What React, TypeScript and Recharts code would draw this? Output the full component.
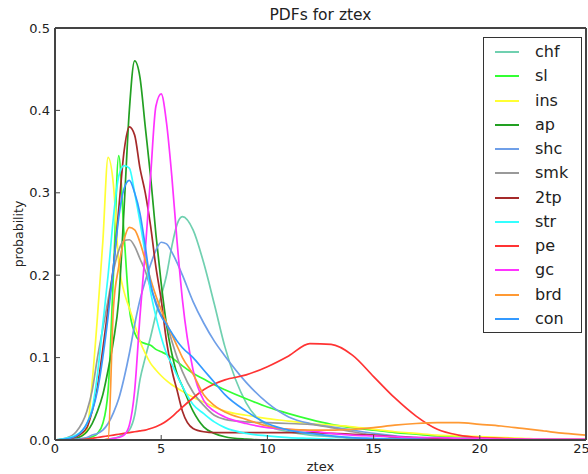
import { Legend, Line, LineChart, XAxis, YAxis } from "recharts";

// ztex grid (finer where the peaks are)
const X = [
  0, 0.5, 1, 1.5, 1.75, 2, 2.25, 2.5, 2.75, 3, 3.25, 3.5, 3.75, 4, 4.25, 4.5, 4.75, 5, 5.25, 5.5, 5.75, 6, 6.5, 7,
  7.5, 8, 9, 10, 11, 12, 13, 14, 15, 16, 17, 18, 19, 20, 21, 22, 23, 24, 25,
];

const CHF = [
  0, 0, 0, 0, 0, 0, 0, 0.001, 0.002, 0.004, 0.007, 0.012, 0.03, 0.073, 0.1, 0.125, 0.152, 0.175, 0.2, 0.235,
  0.262, 0.271, 0.255, 0.215, 0.165, 0.113, 0.045, 0.018, 0.01, 0.006, 0.004, 0.002, 0.001, 0.001, 0, 0, 0, 0,
  0, 0, 0, 0, 0,
];
const SL = [
  0, 0, 0.001, 0.002, 0.004, 0.008, 0.02, 0.06, 0.2, 0.345, 0.25, 0.16, 0.13, 0.12, 0.117, 0.115, 0.11, 0.107,
  0.104, 0.1, 0.095, 0.09, 0.081, 0.074, 0.067, 0.061, 0.05, 0.04, 0.032, 0.025, 0.019, 0.015, 0.012, 0.009,
  0.007, 0.005, 0.004, 0.003, 0.002, 0.001, 0.001, 0.001, 0.001,
];
const INS = [
  0, 0, 0.002, 0.012, 0.07, 0.15, 0.24, 0.343, 0.31, 0.215, 0.18, 0.16, 0.14, 0.12, 0.105, 0.093, 0.085, 0.078,
  0.072, 0.067, 0.063, 0.059, 0.052, 0.046, 0.04, 0.035, 0.03, 0.026, 0.023, 0.02, 0.018, 0.016, 0.013, 0.01,
  0.008, 0.006, 0.005, 0.004, 0.003, 0.002, 0.001, 0.001, 0.001,
];
const AP = [
  0, 0, 0.002, 0.01, 0.02, 0.035, 0.055, 0.085, 0.12, 0.17, 0.28, 0.4, 0.46, 0.44, 0.38, 0.32, 0.25, 0.19, 0.14,
  0.105, 0.08, 0.065, 0.035, 0.016, 0.008, 0.004, 0.001, 0, 0, 0, 0, 0, 0, 0, 0, 0, 0, 0, 0, 0, 0, 0, 0,
];
const SHC = [
  0, 0, 0.001, 0.003, 0.006, 0.008, 0.012, 0.02, 0.033, 0.05, 0.075, 0.105, 0.14, 0.17, 0.193, 0.213, 0.23, 0.24,
  0.238, 0.228, 0.215, 0.2, 0.168, 0.142, 0.12, 0.102, 0.07, 0.045, 0.028, 0.02, 0.016, 0.012, 0.008, 0.005,
  0.003, 0.002, 0.001, 0.001, 0, 0, 0, 0, 0,
];
const SMK = [
  0, 0.002, 0.01, 0.035, 0.06, 0.1, 0.135, 0.17, 0.205, 0.23, 0.242, 0.243, 0.235, 0.22, 0.205, 0.185, 0.168,
  0.152, 0.142, 0.12, 0.1, 0.083, 0.058, 0.042, 0.03, 0.025, 0.022, 0.021, 0.02, 0.019, 0.015, 0.01, 0.006,
  0.003, 0.002, 0.001, 0, 0, 0, 0, 0, 0, 0,
];
const TWOTP = [
  0, 0.001, 0.004, 0.015, 0.035, 0.065, 0.11, 0.16, 0.21, 0.28, 0.35, 0.38, 0.37, 0.33, 0.3, 0.26, 0.21, 0.17,
  0.12, 0.085, 0.06, 0.035, 0.014, 0.01, 0.009, 0.009, 0.009, 0.009, 0.009, 0.009, 0.008, 0.007, 0.006, 0.004,
  0.003, 0.002, 0.001, 0.001, 0, 0, 0, 0, 0,
];
const STR = [
  0, 0.002, 0.006, 0.02, 0.038, 0.08, 0.14, 0.2, 0.27, 0.32, 0.333, 0.33, 0.3, 0.265, 0.225, 0.18, 0.15, 0.125,
  0.105, 0.092, 0.078, 0.065, 0.043, 0.032, 0.022, 0.015, 0.008, 0.005, 0.003, 0.002, 0.001, 0, 0, 0, 0, 0, 0,
  0, 0, 0, 0, 0, 0,
];
const PE = [
  0, 0, 0, 0.001, 0.002, 0.003, 0.004, 0.005, 0.006, 0.007, 0.008, 0.009, 0.01, 0.011, 0.012, 0.014, 0.016,
  0.019, 0.023, 0.028, 0.034, 0.04, 0.051, 0.061, 0.068, 0.073, 0.079, 0.089, 0.102, 0.117, 0.116, 0.103, 0.077,
  0.051, 0.029, 0.013, 0.006, 0.003, 0.002, 0.001, 0, 0, 0,
];
const GC = [
  0, 0, 0, 0, 0, 0, 0, 0.001, 0.002, 0.003, 0.006, 0.018, 0.06, 0.15, 0.23, 0.32, 0.405, 0.42, 0.385, 0.32, 0.24,
  0.17, 0.085, 0.048, 0.035, 0.028, 0.02, 0.015, 0.013, 0.011, 0.008, 0.006, 0.005, 0.004, 0.003, 0.003, 0.002,
  0.002, 0.001, 0.001, 0.001, 0.001, 0.001,
];
const BRD = [
  0, 0, 0, 0, 0, 0, 0, 0.001, 0.16, 0.21, 0.243, 0.258, 0.255, 0.24, 0.218, 0.195, 0.175, 0.158, 0.142, 0.128,
  0.114, 0.1, 0.08, 0.055, 0.042, 0.034, 0.025, 0.017, 0.013, 0.012, 0.012, 0.013, 0.015, 0.018, 0.02, 0.021,
  0.021, 0.019, 0.017, 0.014, 0.011, 0.008, 0.006,
];
const CON = [
  0, 0.001, 0.005, 0.02, 0.035, 0.06, 0.1, 0.15, 0.21, 0.27, 0.305, 0.315, 0.3, 0.275, 0.235, 0.19, 0.165, 0.15,
  0.14, 0.13, 0.12, 0.112, 0.1, 0.085, 0.07, 0.055, 0.035, 0.02, 0.012, 0.008, 0.005, 0.003, 0.002, 0.001, 0.001,
  0, 0, 0, 0, 0, 0, 0, 0,
];

const NAMES = ["chf", "sl", "ins", "ap", "shc", "smk", "2tp", "str", "pe", "gc", "brd", "con"];
const VALUES = [CHF, SL, INS, AP, SHC, SMK, TWOTP, STR, PE, GC, BRD, CON];
const COLORS = [
  "#70d0b0", "#33ff33", "#ffff33", "#22a022", "#6f9fe8", "#999999",
  "#a52a2a", "#33ffff", "#ff3333", "#ff33ff", "#ff9933", "#3399ff",
];

const X_TICKS = [0, 5, 10, 15, 20, 25];
const Y_TICKS = [0, 0.1, 0.2, 0.3, 0.4, 0.5];

const data = X.map((x, i) => {
  const row: Record<string, number> = { x };
  NAMES.forEach((n, j) => (row[n] = VALUES[j][i]));
  return row;
});

const FRAME = "#444";
const TEXT = "#222";

function LegendBox() {
  return (
    <div
      style={{
        width: 99,
        height: 296,
        border: "1.5px solid #333",
        background: "#fff",
        boxSizing: "border-box",
        paddingTop: 2,
      }}
    >
      {NAMES.map((n, i) => (
        <div key={n} style={{ display: "flex", alignItems: "center", height: 24.25 }}>
          <div style={{ width: 24, height: 2, background: COLORS[i], marginLeft: 11 }} />
          <span style={{ marginLeft: 16, fontSize: 16, color: TEXT, lineHeight: "16px" }}>{n}</span>
        </div>
      ))}
    </div>
  );
}

export default function App() {
  return (
    <div style={{ position: "absolute", left: 0, top: 0, fontFamily: "DejaVu Sans", background: "#fff" }}>
      <LineChart width={588} height={474} data={data} margin={{ top: 0, right: 0, bottom: 0, left: 0 }}>
        <XAxis
          dataKey="x"
          type="number"
          domain={[0, 25]}
          ticks={X_TICKS}
          height={34}
          tickSize={-5}
          tickMargin={9}
          axisLine={{ stroke: FRAME, strokeWidth: 2 }}
          tickLine={{ stroke: FRAME }}
          tick={{ fill: TEXT, fontSize: 13 }}
          label={{ value: "ztex", position: "insideBottom", offset: 3, fill: TEXT, fontSize: 13 }}
        />
        <XAxis
          xAxisId="top"
          orientation="top"
          dataKey="x"
          type="number"
          domain={[0, 25]}
          ticks={X_TICKS}
          height={28}
          tickSize={-5}
          tick={false}
          axisLine={{ stroke: FRAME, strokeWidth: 2 }}
          tickLine={{ stroke: FRAME }}
          label={{
            content: (p: any) => (
              <text
                x={p.viewBox.x + p.viewBox.width / 2}
                y={20}
                textAnchor="middle"
                fill={TEXT}
                fontSize={15.5}
              >
                PDFs for ztex
              </text>
            ),
          }}
        />
        <YAxis
          type="number"
          domain={[0, 0.5]}
          ticks={Y_TICKS}
          width={55}
          tickSize={-5}
          tickMargin={10}
          tickFormatter={(v: number) => v.toFixed(1)}
          axisLine={{ stroke: FRAME, strokeWidth: 2 }}
          tickLine={{ stroke: FRAME }}
          tick={{ fill: TEXT, fontSize: 13 }}
          label={{
            content: (p: any) => {
              const cx = 18;
              const cy = p.viewBox.y + p.viewBox.height / 2;
              return (
                <text
                  x={cx}
                  y={cy}
                  transform={`rotate(-90 ${cx} ${cy})`}
                  textAnchor="middle"
                  dominantBaseline="central"
                  fill={TEXT}
                  fontSize={12.5}
                >
                  probability
                </text>
              );
            },
          }}
        />
        <YAxis
          yAxisId="right"
          orientation="right"
          type="number"
          domain={[0, 0.5]}
          ticks={Y_TICKS}
          width={2}
          tickSize={-5}
          tick={false}
          axisLine={{ stroke: FRAME, strokeWidth: 2 }}
          tickLine={{ stroke: FRAME }}
        />
        {NAMES.map((n, i) => (
          <Line
            key={n}
            dataKey={n}
            type="monotone"
            stroke={COLORS[i]}
            strokeWidth={1.7}
            dot={false}
            isAnimationActive={false}
          />
        ))}
        <Legend
          layout="vertical"
          align="center"
          verticalAlign="middle"
          wrapperStyle={{ top: 37, left: 483, width: 99, height: 296 }}
          content={() => <LegendBox />}
        />
      </LineChart>
    </div>
  );
}
